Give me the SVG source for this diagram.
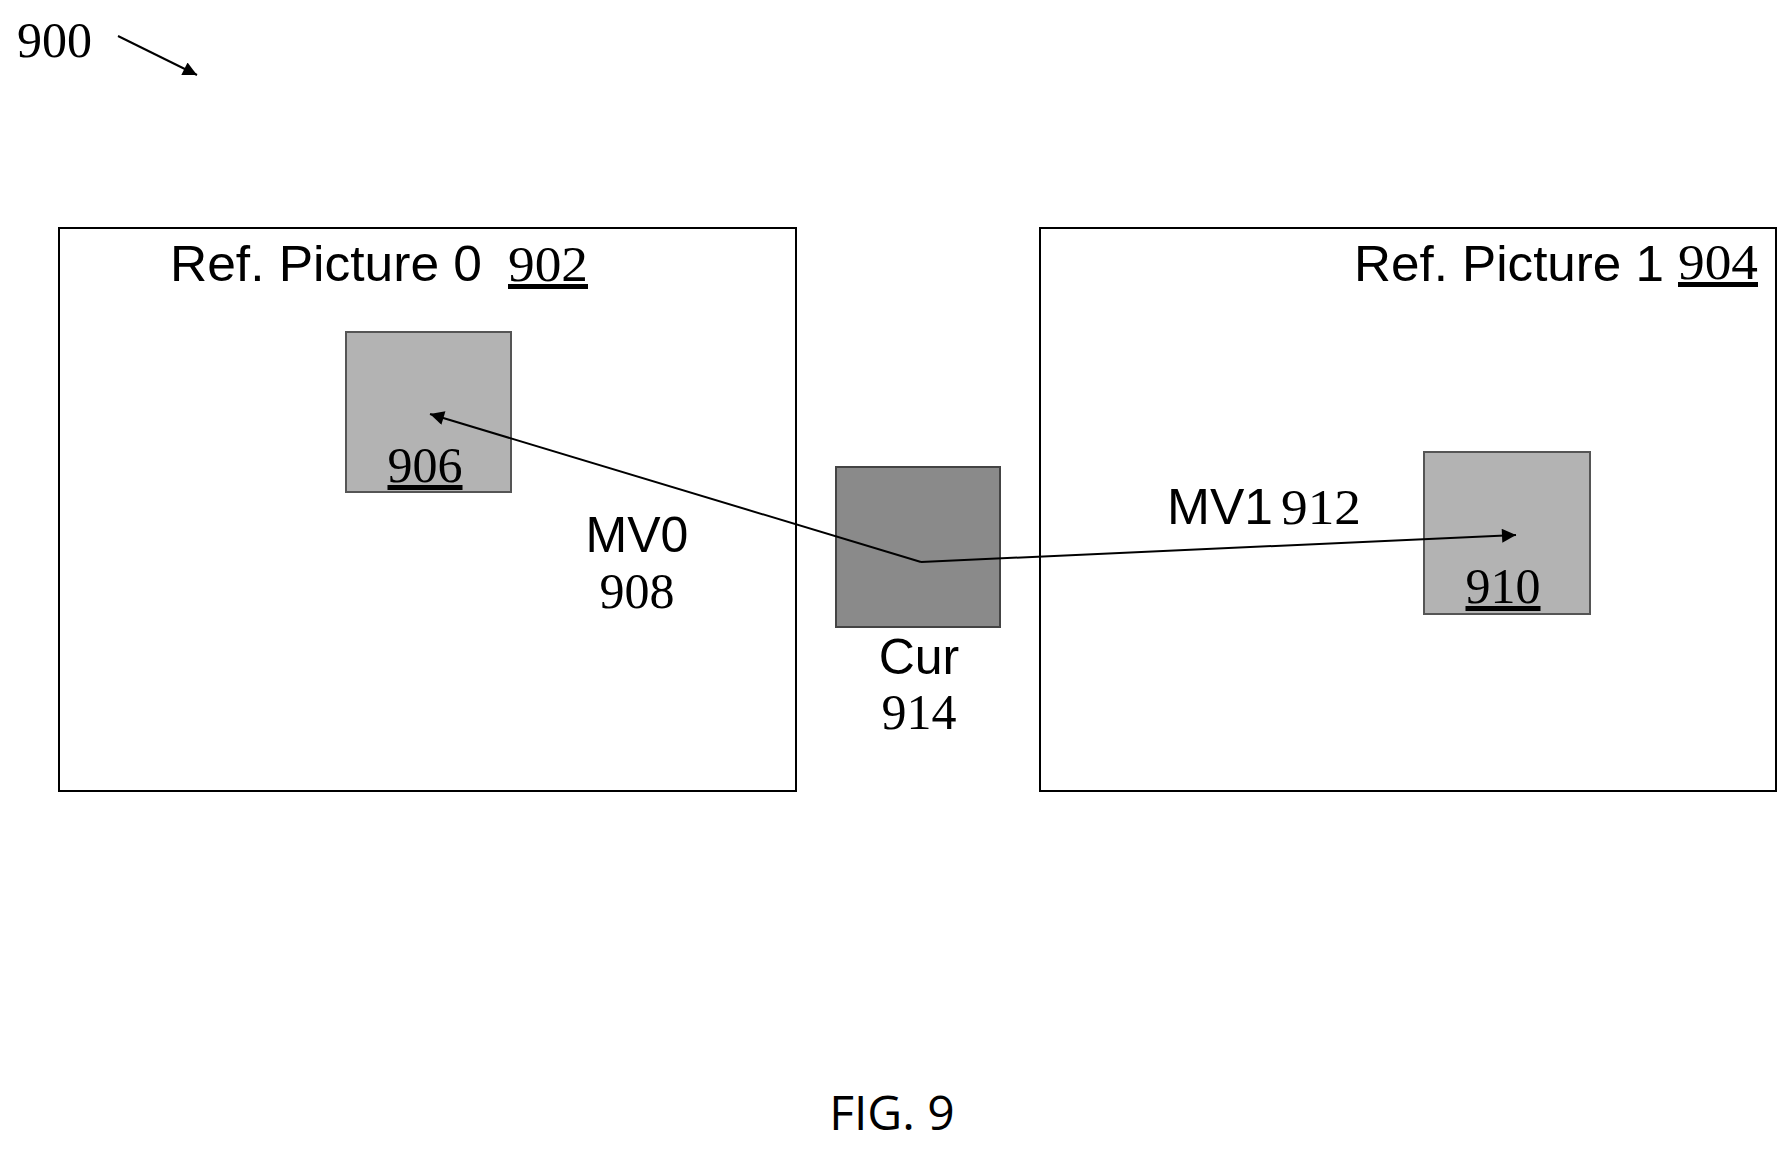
<svg xmlns="http://www.w3.org/2000/svg" width="1790" height="1156" viewBox="0 0 1790 1156">
<style>
.frame{fill:#fff;stroke:#000;stroke-width:2}
.blk{fill:#b3b3b3;stroke:#555;stroke-width:2}
.cur{fill:#8a8a8a;stroke:#444;stroke-width:2}
.sans{font-family:"Liberation Sans",Arial,sans-serif;font-size:50px;fill:#000}
.serif{font-family:"Liberation Serif","Times New Roman",serif;font-size:50px;fill:#000}
.line{stroke:#000;stroke-width:2;fill:none}
</style>
<defs>
<marker id="ah" viewBox="0 0 10 10" refX="10" refY="5" markerWidth="16" markerHeight="14" markerUnits="userSpaceOnUse" orient="auto"><path d="M0,0L10,5L0,10z" fill="#000"/></marker>
</defs>
<rect width="1790" height="1156" fill="#fff"/>
<g id="label900"><text class="serif" x="17" y="57">900</text></g>
<g id="ref0"><rect class="frame" x="59" y="228" width="737" height="563"/>
<text class="sans" x="170" y="281" textLength="312" lengthAdjust="spacingAndGlyphs">Ref. Picture 0</text>
<text class="serif" x="508" y="281" textLength="80" lengthAdjust="spacingAndGlyphs" text-decoration="underline">902</text></g>
<g id="ref1"><rect class="frame" x="1040" y="228" width="736" height="563"/>
<text class="sans" x="1354" y="281" textLength="310" lengthAdjust="spacingAndGlyphs">Ref. Picture 1</text>
<text class="serif" x="1678" y="279" textLength="80" lengthAdjust="spacingAndGlyphs" text-decoration="underline">904</text></g>
<g id="b906"><rect class="blk" x="346" y="332" width="165" height="160"/>
<text class="serif" x="425" y="482" text-anchor="middle" text-decoration="underline">906</text></g>
<g id="b910"><rect class="blk" x="1424" y="452" width="166" height="162"/>
<text class="serif" x="1503" y="603" text-anchor="middle" text-decoration="underline">910</text></g>
<g id="cur"><rect class="cur" x="836" y="467" width="164" height="160"/>
<text class="sans" x="919" y="674" text-anchor="middle">Cur</text>
<text class="serif" x="919" y="729" text-anchor="middle">914</text></g>
<g id="labels">
<text class="sans" x="637" y="552" text-anchor="middle">MV0</text>
<text class="serif" x="637" y="608" text-anchor="middle">908</text>
<text class="sans" x="1167" y="524" textLength="106" lengthAdjust="spacingAndGlyphs">MV1</text>
<text class="serif" x="1281" y="524" textLength="80" lengthAdjust="spacingAndGlyphs">912</text>
<text x="892" y="1130" text-anchor="middle" style="font-family:'Open Sans','Liberation Sans',sans-serif;font-size:48px">FIG. 9</text>
</g>
<g id="connectors">
<line class="line" x1="118" y1="36" x2="197" y2="75" marker-end="url(#ah)"/>
<path class="line" d="M921,562 L430,414" marker-end="url(#ah)"/>
<path class="line" d="M921,562 L1516,535" marker-end="url(#ah)"/>
</g>
</svg>
